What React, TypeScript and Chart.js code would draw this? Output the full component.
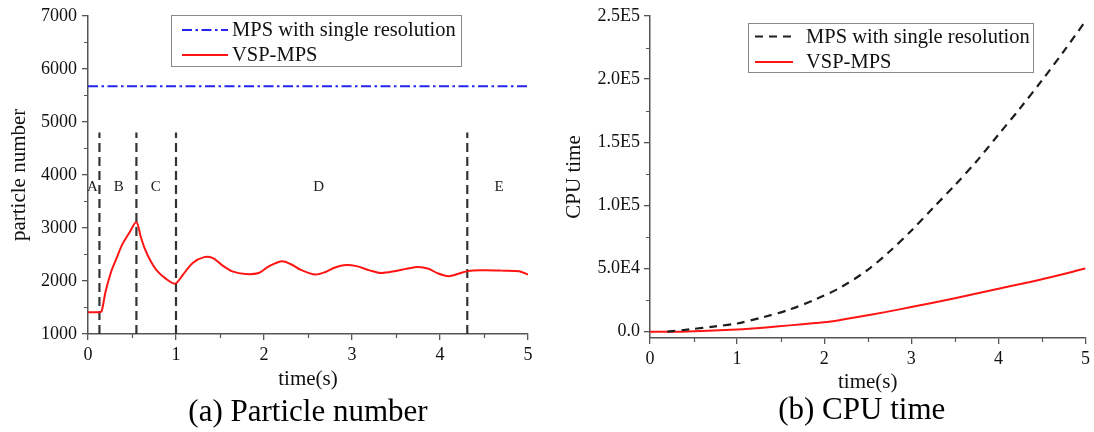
import React, { useEffect, useRef } from "react";
import { Chart, registerables } from "chart.js";

Chart.register(...registerables);

const FONT = "'Liberation Serif', 'Times New Roman', Times, serif";
const AXIS = "#555555";
const TEXT = "#111111";

// ---------- Panel (a): particle number ----------
const timeA = [0, 0.13, 0.155, 0.2, 0.26, 0.32, 0.39, 0.47, 0.55, 0.6, 0.65, 0.71, 0.78, 0.88, 0.99, 1.08, 1.19, 1.32, 1.42, 1.53, 1.64, 1.79, 1.94, 2.05, 2.2, 2.3, 2.42, 2.58, 2.7, 2.8, 2.93, 3.05, 3.2, 3.33, 3.5, 3.62, 3.75, 3.87, 3.98, 4.1, 4.2, 4.32, 4.5, 4.7, 4.9, 5.0];
const particleVSP = [1410, 1410, 1430, 1800, 2160, 2410, 2690, 2910, 3110, 2830, 2590, 2380, 2200, 2050, 1950, 2120, 2340, 2450, 2430, 2290, 2180, 2130, 2150, 2270, 2370, 2320, 2210, 2120, 2170, 2250, 2300, 2280, 2200, 2150, 2190, 2230, 2265, 2230, 2140, 2090, 2130, 2190, 2200, 2195, 2185, 2120];
const mpsSingleParticle = 5670;
const timeSpan = [0, 5];
const phaseBoundaries = [0.13, 0.55, 1.0, 4.31];
const phaseBoundaryRange = [1000, 4800];
const phaseLabels = ["A", "B", "C", "D", "E"];
const phaseLabelTimes = [0.05, 0.35, 0.77, 2.62, 4.67];
const phaseLabelLevel = 3780;
const yTicksA = [1000, 2000, 3000, 4000, 5000, 6000, 7000];
const yMinorA = [1500, 2500, 3500, 4500, 5500, 6500];
const xTicks = [0, 1, 2, 3, 4, 5];
const xMinor = [0.5, 1.5, 2.5, 3.5, 4.5];

// ---------- Panel (b): CPU time ----------
const timeB_MPS = [0.2, 0.45, 0.75, 1.0, 1.3, 1.6, 1.9, 2.2, 2.5, 2.75, 3.0, 3.25, 3.5, 3.75, 4.0, 4.25, 4.5, 4.75, 5.0];
const cpuMPS = [0, 1800, 4200, 6500, 11500, 17500, 25500, 35500, 49000, 63500, 80000, 98000, 116000, 135000, 156000, 177000, 199000, 222000, 246000];
const timeB_VSP = [0, 0.3, 0.6, 1.0, 1.3, 1.6, 1.9, 2.1, 2.4, 2.7, 3.0, 3.5, 4.0, 4.5, 5.0];
const cpuVSP = [0, 0, 600, 1800, 3200, 5000, 6800, 8200, 11800, 15500, 19500, 26500, 34000, 41500, 50000];
const yTicksB = [0, 50000, 100000, 150000, 200000, 250000];
const yTickLabelsB = ["0.0", "5.0E4", "1.0E5", "1.5E5", "2.0E5", "2.5E5"];
const yMinorB = [25000, 75000, 125000, 175000, 225000];

const seriesNames = ["MPS with single resolution", "VSP-MPS"];
const captions = ["(a) Particle number", "(b) CPU time"];

const toPoints = (xs: number[], ys: number[]) => xs.map((x, i) => ({ x, y: ys[i] }));

const decorPlugin = {
  id: "decor",
  afterDraw(chart: any, _args: any, opts: any) {
    const { ctx, chartArea, scales } = chart;
    const xs = scales.x;
    const ys = scales.y;
    ctx.save();
    // minor ticks
    ctx.strokeStyle = AXIS;
    ctx.lineWidth = 1.2;
    ctx.beginPath();
    for (const v of opts.minorX || []) {
      const px = Math.round(xs.getPixelForValue(v)) + 0.5;
      ctx.moveTo(px, chartArea.bottom);
      ctx.lineTo(px, chartArea.bottom + 4);
    }
    for (const v of opts.minorY || []) {
      const py = Math.round(ys.getPixelForValue(v)) + 0.5;
      ctx.moveTo(chartArea.left - 4, py);
      ctx.lineTo(chartArea.left, py);
    }
    ctx.stroke();
    // phase labels
    if (opts.labels) {
      ctx.fillStyle = "#222";
      ctx.font = `15px ${FONT}`;
      ctx.textAlign = "center";
      ctx.textBaseline = "middle";
      opts.labels.text.forEach((t: string, i: number) => {
        ctx.fillText(t, xs.getPixelForValue(opts.labels.at[i]), ys.getPixelForValue(opts.labels.level));
      });
    }
    // legend
    const L = opts.legend;
    if (L) {
      ctx.strokeStyle = "#8a8a8a";
      ctx.lineWidth = 1;
      ctx.strokeRect(L.x + 0.5, L.y + 0.5, L.w, L.h);
      ctx.font = `${L.fontSize}px ${FONT}`;
      ctx.textAlign = "left";
      ctx.textBaseline = "middle";
      L.rows.forEach((rowY: number, i: number) => {
        const ds = chart.data.datasets[i];
        ctx.save();
        ctx.strokeStyle = ds.borderColor;
        ctx.lineWidth = ds.borderWidth;
        ctx.setLineDash(ds.borderDash || []);
        ctx.beginPath();
        ctx.moveTo(L.sx0, rowY);
        ctx.lineTo(L.sx1, rowY);
        ctx.stroke();
        ctx.restore();
        ctx.fillStyle = TEXT;
        ctx.fillText(ds.label, L.tx, rowY + 1);
      });
    }
    // caption
    if (opts.caption) {
      ctx.fillStyle = "#000";
      ctx.font = `${opts.caption.size}px ${FONT}`;
      ctx.textAlign = "center";
      ctx.textBaseline = "middle";
      ctx.fillText(opts.caption.text, (chartArea.left + chartArea.right) / 2 + opts.caption.dx, opts.caption.y);
    }
    ctx.restore();
  },
};

function makeScales(p: any) {
  return {
    x: {
      type: "linear",
      min: timeSpan[0],
      max: timeSpan[1],
      afterBuildTicks: (s: any) => {
        s.ticks = xTicks.map((v) => ({ value: v }));
      },
      afterFit: (s: any) => {
        s.height = p.xHeight;
      },
      grid: { drawOnChartArea: false, drawTicks: true, tickLength: 6, color: AXIS, lineWidth: 1.3 },
      border: { display: true, color: AXIS, width: 1.5 },
      ticks: {
        font: { family: FONT, size: 18 },
        color: TEXT,
        padding: 4,
        maxRotation: 0,
        autoSkip: false,
        callback: (v: any) => String(v),
      },
      title: {
        display: true,
        text: "time(s)",
        font: { family: FONT, size: 21 },
        color: TEXT,
        padding: { top: 0, bottom: p.xTitlePad },
      },
    },
    y: {
      type: "linear",
      min: p.yMin,
      max: p.yMax,
      afterBuildTicks: (s: any) => {
        s.ticks = p.yTicks.map((v: number) => ({ value: v }));
      },
      afterFit: (s: any) => {
        s.width = p.yWidth;
      },
      grid: { drawOnChartArea: false, drawTicks: true, tickLength: 6, color: AXIS, lineWidth: 1.3 },
      border: { display: true, color: AXIS, width: 1.5 },
      ticks: {
        font: { family: FONT, size: 18 },
        color: TEXT,
        padding: p.yTickPad,
        autoSkip: false,
        callback: p.yLabel,
      },
      title: {
        display: true,
        text: p.yTitle,
        font: { family: FONT, size: 21 },
        color: TEXT,
        padding: { top: p.yTitlePad, bottom: 0 },
      },
    },
  };
}

function configA(): any {
  const datasets: any[] = [
    {
      label: seriesNames[0],
      data: toPoints(timeSpan, [mpsSingleParticle, mpsSingleParticle]),
      borderColor: "#2424f0",
      borderWidth: 2,
      borderDash: [10, 3.5, 2.5, 3.5],
      pointRadius: 0,
    },
    {
      label: seriesNames[1],
      data: toPoints(timeA, particleVSP),
      borderColor: "#ff1414",
      borderWidth: 2,
      tension: 0.3,
      pointRadius: 0,
    },
    ...phaseBoundaries.map((b) => ({
      label: "boundary",
      data: toPoints([b, b], phaseBoundaryRange),
      borderColor: "#333333",
      borderWidth: 2.2,
      borderDash: [9, 5],
      pointRadius: 0,
    })),
  ];
  return {
    type: "line",
    data: { datasets },
    plugins: [decorPlugin],
    options: {
      responsive: false,
      animation: false,
      devicePixelRatio: 1,
      layout: { padding: { left: 0, right: 19, top: 12, bottom: 0 } },
      scales: makeScales({
        xHeight: 98,
        xTitlePad: 40,
        yMin: 1000,
        yMax: 7000,
        yTicks: yTicksA,
        yWidth: 88,
        yTickPad: 5,
        yLabel: (v: any) => String(v),
        yTitle: "particle number",
        yTitlePad: 7,
      }),
      plugins: {
        legend: { display: false },
        tooltip: { enabled: false },
        decor: {
          minorX: xMinor,
          minorY: yMinorA,
          labels: { text: phaseLabels, at: phaseLabelTimes, level: phaseLabelLevel },
          legend: { x: 171, y: 15, w: 290, h: 51, rows: [30, 55], sx0: 182, sx1: 228, tx: 232, fontSize: 20.5 },
          caption: { text: captions[0], size: 31, y: 413, dx: 0 },
        },
      },
    },
  };
}

function configB(): any {
  const datasets: any[] = [
    {
      label: seriesNames[0],
      data: toPoints(timeB_MPS, cpuMPS),
      borderColor: "#1e1e1e",
      borderWidth: 2.2,
      borderDash: [8, 6],
      tension: 0.3,
      pointRadius: 0,
    },
    {
      label: seriesNames[1],
      data: toPoints(timeB_VSP, cpuVSP),
      borderColor: "#ff1414",
      borderWidth: 2,
      tension: 0.3,
      pointRadius: 0,
    },
  ];
  return {
    type: "line",
    data: { datasets },
    plugins: [decorPlugin],
    options: {
      responsive: false,
      animation: false,
      devicePixelRatio: 1,
      layout: { padding: { left: 0, right: 7, top: 16, bottom: 0 } },
      scales: makeScales({
        xHeight: 94,
        xTitlePad: 37,
        yMin: -5000,
        yMax: 250000,
        yTicks: yTicksB,
        yWidth: 103,
        yTickPad: 4,
        yLabel: (v: any) => yTickLabelsB[yTicksB.indexOf(v)] ?? "",
        yTitle: "CPU time",
        yTitlePad: 15,
      }),
      plugins: {
        legend: { display: false },
        tooltip: { enabled: false },
        decor: {
          minorX: xMinor,
          minorY: yMinorB,
          legend: { x: 201, y: 23, w: 285, h: 49, rows: [36.5, 62], sx0: 208, sx1: 246, tx: 259, fontSize: 20.5 },
          caption: { text: captions[1], size: 31, y: 411, dx: -6 },
        },
      },
    },
  };
}

export default function App() {
  const refA = useRef<HTMLCanvasElement>(null);
  const refB = useRef<HTMLCanvasElement>(null);
  useEffect(() => {
    const a = new Chart(refA.current as HTMLCanvasElement, configA());
    const b = new Chart(refB.current as HTMLCanvasElement, configB());
    return () => {
      a.destroy();
      b.destroy();
    };
  }, []);
  return (
    <div style={{ position: "absolute", left: 0, top: 0, width: 1094, height: 432, background: "#ffffff" }}>
      <canvas ref={refA} width={547} height={432} style={{ position: "absolute", left: 0, top: 0, width: 547, height: 432 }} />
      <canvas ref={refB} width={547} height={432} style={{ position: "absolute", left: 547, top: 0, width: 547, height: 432 }} />
    </div>
  );
}
